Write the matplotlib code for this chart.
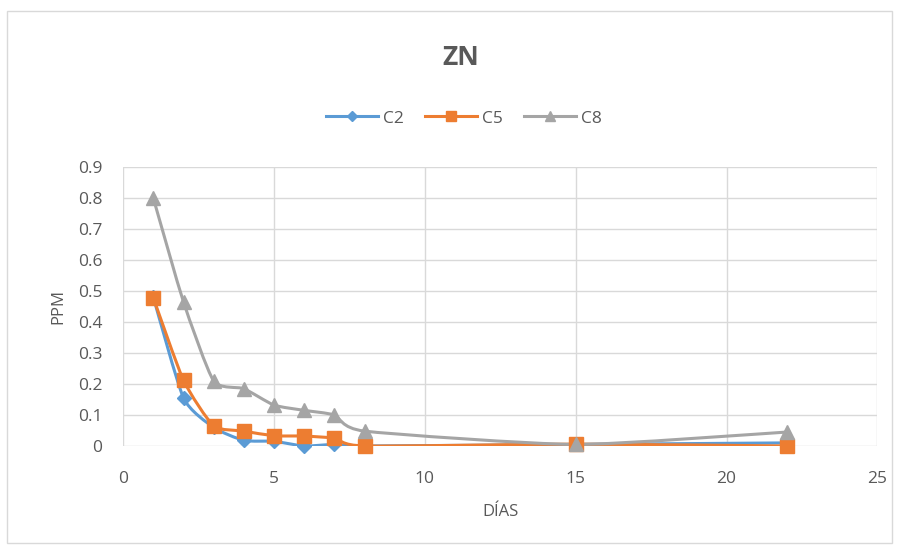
import matplotlib.pyplot as plt
import numpy as np
from matplotlib.path import Path
from matplotlib.patches import PathPatch, Rectangle
from matplotlib.lines import Line2D

plt.rcParams["font.family"] = ["Open Sans", "DejaVu Sans"]

DIAS = [1, 2, 3, 4, 5, 6, 7, 8, 15, 22]
C2 = [0.48, 0.155, 0.06, 0.018, 0.015, 0.0, 0.005, 0.0, 0.005, 0.01]
C5 = [0.478, 0.212, 0.065, 0.048, 0.033, 0.032, 0.025, 0.0, 0.006, 0.0]
C8 = [0.80, 0.465, 0.21, 0.185, 0.132, 0.115, 0.10, 0.048, 0.005, 0.045]

SERIES = [
    ("C2", C2, "#5B9BD5", "D", 7),
    ("C5", C5, "#ED7D31", "s", 10.5),
    ("C8", C8, "#A5A5A5", "^", 10),
]

TEXT = "#595959"
GRID = "#D9D9D9"


def smooth_path(xs, ys, tension=0.3):
    # Excel-like smoothed line as cubic Bezier segments through the points
    pts = np.column_stack([xs, ys]).astype(float)
    verts = [pts[0]]
    codes = [Path.MOVETO]
    n = len(pts)
    for i in range(n - 1):
        p0 = pts[i - 1] if i > 0 else pts[i]
        p1, p2 = pts[i], pts[i + 1]
        p3 = pts[i + 2] if i + 2 < n else pts[i + 1]
        c1 = p1 + (p2 - p0) * tension / 3
        c2 = p2 - (p3 - p1) * tension / 3
        verts += [c1, c2, p2]
        codes += [Path.CURVE4] * 3
    return Path(verts, codes)


fig = plt.figure(figsize=(8.99, 5.51), dpi=100)
fig.patches.append(Rectangle((0.008, 0.015), 0.984, 0.965, transform=fig.transFigure,
                             fill=False, edgecolor="#D9D9D9", linewidth=1))
ax = fig.add_axes([0.137, 0.1906, 0.839, 0.506])

handles = []
for name, vals, color, marker, ms in SERIES:
    ax.add_patch(PathPatch(smooth_path(DIAS, vals), facecolor="none",
                           edgecolor=color, linewidth=2.2, zorder=3))
    ax.plot(DIAS, vals, linestyle="none", marker=marker, markersize=ms,
            color=color, zorder=4, clip_on=False)
    handles.append(Line2D([], [], color=color, linewidth=2.2, marker=marker,
                          markersize=ms * 0.75, label=name))

ax.set_xlim(0, 25)
ax.set_ylim(0, 0.9)
ax.set_xticks(np.arange(0, 26, 5))
ax.set_yticks(np.arange(0, 0.91, 0.1))
ax.set_yticklabels(["0"] + [f"{v:.1f}" for v in np.arange(0.1, 0.91, 0.1)])
ax.grid(True, color=GRID, linewidth=1)
ax.set_axisbelow(True)
for spine in ax.spines.values():
    spine.set_visible(False)
ax.tick_params(length=0, colors=TEXT, labelsize=12.5)
ax.tick_params(axis="x", pad=18)
ax.tick_params(axis="y", pad=15)

ax.set_xlabel("DÍAS", color=TEXT, fontsize=12, labelpad=12)
ax.set_ylabel("PPM", color=TEXT, fontsize=12, labelpad=8)

fig.text(0.513, 0.895, "ZN", ha="center", va="center", fontsize=19,
         fontweight="bold", color=TEXT)
fig.legend(handles=handles, loc="center", bbox_to_anchor=(0.516, 0.785), ncol=3,
           frameon=False, fontsize=12.5, labelcolor=TEXT, handlelength=3.0,
           handletextpad=0.3, columnspacing=1.2)

fig.savefig("out.png", dpi=100, facecolor="white")
